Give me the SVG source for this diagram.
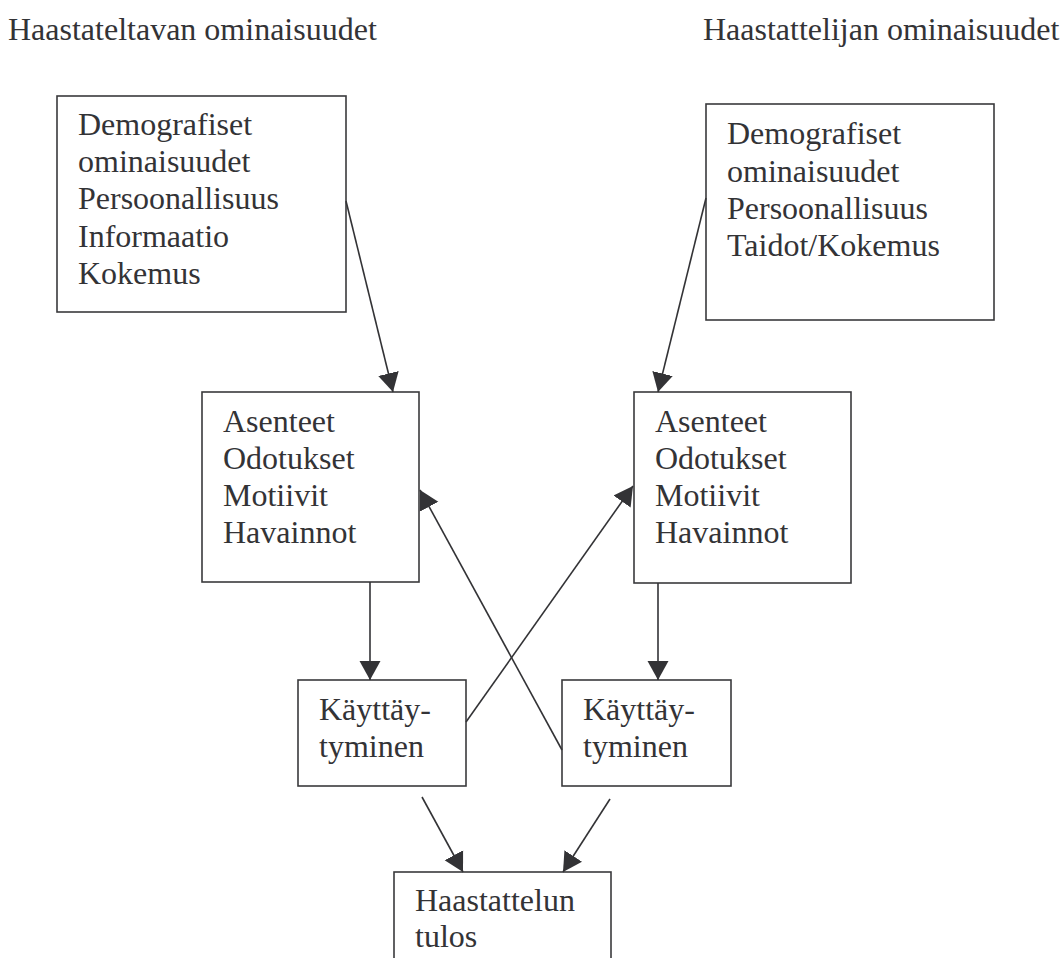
<svg xmlns="http://www.w3.org/2000/svg" width="1061" height="958" viewBox="0 0 1061 958">
<style>
text{font-family:"Liberation Serif","Times New Roman",serif;font-size:32px;fill:#333336}
.box{fill:#fff;stroke:#3a3a3c;stroke-width:1.6}
.edge{stroke:#333336;stroke-width:1.6;fill:none;marker-end:url(#ah)}
</style>
<defs>
<marker id="ah" markerUnits="userSpaceOnUse" markerWidth="20" markerHeight="22" refX="19" refY="10.5" orient="auto" viewBox="0 0 20 21">
<path d="M0,0 L19,10.5 L0,21 z" fill="#333336"/>
</marker>
</defs>
<rect width="1061" height="958" fill="#fff"/>
<g id="header-left"><text x="8" y="40">Haastateltavan ominaisuudet</text></g>
<g id="header-right"><text x="703" y="40">Haastattelijan ominaisuudet</text></g>
<g id="n-haastateltava-tausta">
<rect class="box" x="57" y="96" width="289" height="216"/>
<text x="78" y="135">Demografiset</text>
<text x="78" y="172">ominaisuudet</text>
<text x="78" y="209">Persoonallisuus</text>
<text x="78" y="247">Informaatio</text>
<text x="78" y="284">Kokemus</text>
</g>
<g id="n-haastattelija-tausta">
<rect class="box" x="706" y="104" width="288" height="216"/>
<text x="727" y="144">Demografiset</text>
<text x="727" y="182">ominaisuudet</text>
<text x="727" y="219">Persoonallisuus</text>
<text x="727" y="256">Taidot/Kokemus</text>
</g>
<g id="n-asenteet-left">
<rect class="box" x="202" y="392" width="217" height="190"/>
<text x="223" y="432">Asenteet</text>
<text x="223" y="469">Odotukset</text>
<text x="223" y="506">Motiivit</text>
<text x="223" y="543">Havainnot</text>
</g>
<g id="n-asenteet-right">
<rect class="box" x="634" y="392" width="217" height="191"/>
<text x="655" y="432">Asenteet</text>
<text x="655" y="469">Odotukset</text>
<text x="655" y="506">Motiivit</text>
<text x="655" y="543">Havainnot</text>
</g>
<g id="n-kayttaytyminen-left">
<rect class="box" x="298" y="680" width="168" height="106"/>
<text x="319" y="720">Käyttäy-</text>
<text x="319" y="757">tyminen</text>
</g>
<g id="n-kayttaytyminen-right">
<rect class="box" x="562" y="680" width="169" height="106"/>
<text x="583" y="720">Käyttäy-</text>
<text x="583" y="757">tyminen</text>
</g>
<g id="n-tulos">
<rect class="box" x="394" y="872" width="217" height="100"/>
<text x="415" y="911">Haastattelun</text>
<text x="415" y="947">tulos</text>
</g>
<g id="connectors">
<line class="edge" x1="346" y1="201" x2="393" y2="392"/>
<line class="edge" x1="706" y1="198" x2="658" y2="392"/>
<line class="edge" x1="370" y1="582" x2="370" y2="680"/>
<line class="edge" x1="658" y1="583" x2="658" y2="680"/>
<line class="edge" x1="466" y1="722" x2="633" y2="486"/>
<line class="edge" x1="562" y1="750" x2="420" y2="490"/>
<line class="edge" x1="422" y1="797" x2="463" y2="872"/>
<line class="edge" x1="610" y1="799" x2="563" y2="872"/>
</g>
</svg>
